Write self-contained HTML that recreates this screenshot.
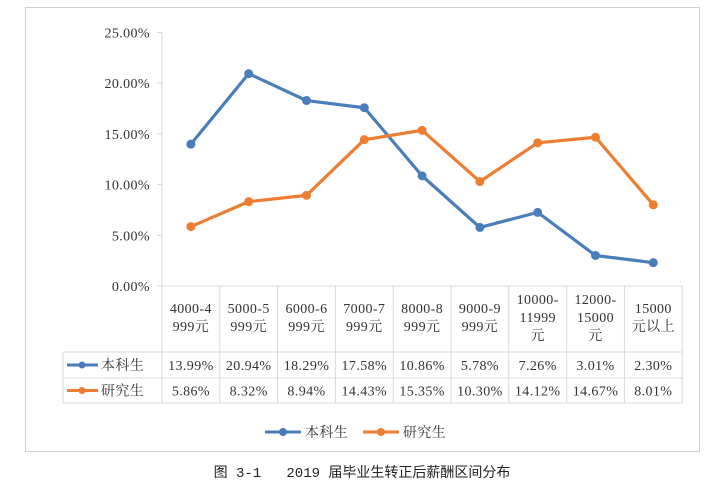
<!DOCTYPE html>
<html><head><meta charset="utf-8"><style>
body{margin:0;background:#fff;width:713px;height:502px;overflow:hidden;font-family:"Liberation Serif","Noto Serif CJK SC",serif;}
</style></head><body>
<svg width="713" height="502" style="position:absolute;left:0;top:0">
<rect x="25.5" y="7.5" width="674" height="444" fill="#fff" stroke="#d0d0d0"/>
<g id="g" font-size="14" fill="#333" letter-spacing="0.4"></g>
<text x="362" y="477" text-anchor="middle" font-size="14" fill="#222" style="white-space:pre" font-family="'Liberation Mono','Noto Sans CJK SC',monospace">图 3-1   2019 届毕业生转正后薪酬区间分布</text>
</svg>
<script>
const categories=[["4000-4","999元"],["5000-5","999元"],["6000-6","999元"],["7000-7","999元"],["8000-8","999元"],["9000-9","999元"],["10000-","11999","元"],["12000-","15000","元"],["15000","元以上"]];
const seriesNames=["本科生","研究生"];
const undergrad=[13.99,20.94,18.29,17.58,10.86,5.78,7.26,3.01,2.30];
const graduate=[5.86,8.32,8.94,14.43,15.35,10.30,14.12,14.67,8.01];
const yTicks=[0,5,10,15,20,25];
const colors=["#4a7ebb","#ed7d31"];
const NS="http://www.w3.org/2000/svg",g=document.getElementById('g');
const x0=162,cw=57.8,yb=286,yt=32.5;
const X=i=>x0+cw*(i+0.5), Y=v=>yb-(v/25)*(yb-yt);
function mk(t,a,txt){const e=document.createElementNS(NS,t);for(const k in a)e.setAttribute(k,a[k]);if(txt!=null)e.textContent=txt;g.appendChild(e);return e;}
const ax=mk('line',{x1:x0,x2:x0,y1:yt,y2:yb,stroke:'#d9d9d9'});


yTicks.forEach(v=>{const t=mk('text',{x:150,y:Y(v)+5,'text-anchor':'end','font-size':14},v.toFixed(2)+'%');


const l=mk('line',{x1:x0-5,x2:x0,y1:Y(v),y2:Y(v),stroke:'#d9d9d9'});

});
const xe=x0+cw*categories.length;
[[x0,286,xe,286],[63,352,xe,352],[63,378,xe,378],[63,403,xe,403],[63,352,63,403]].forEach(a=>{const l=mk('line',{x1:a[0],y1:a[1],x2:a[2],y2:a[3],stroke:'#d9d9d9'});

});
for(let i=0;i<=categories.length;i++){const l=mk('line',{x1:x0+cw*i,x2:x0+cw*i,y1:286,y2:403,stroke:'#d9d9d9'});

}
categories.forEach((c,i)=>{const n=c.length,top=n===3?304:313;c.forEach((s,j)=>{const t=mk('text',{x:X(i),y:top+j*18,'text-anchor':'middle'},s);

});});
[undergrad,graduate].forEach((d,k)=>{
const ry=370+k*25.5;
const lg=mk('line',{x1:67,x2:98,y1:ry-5,y2:ry-5,stroke:colors[k],'stroke-width':3});


const lc=mk('circle',{cx:82,cy:ry-5,r:3.5,fill:colors[k]});


const rn=mk('text',{x:101,y:ry,'font-size':14},seriesNames[k]);


d.forEach((v,i)=>{const t=mk('text',{x:X(i),y:ry,'text-anchor':'middle'},v.toFixed(2)+'%');

});
const p=mk('polyline',{points:d.map((v,i)=>X(i)+','+Y(v)).join(' '),fill:'none',stroke:colors[k],'stroke-width':3.2,'stroke-linejoin':'round'});


d.forEach((v,i)=>{const c=mk('circle',{cx:X(i),cy:Y(v),r:4.5,fill:colors[k]});

});
const lx=265+98*k;
const ll=mk('line',{x1:lx,x2:lx+36,y1:432,y2:432,stroke:colors[k],'stroke-width':3});


const lm=mk('circle',{cx:lx+18,cy:432,r:4,fill:colors[k]});


const lt=mk('text',{x:lx+40,y:437,'font-size':14},seriesNames[k]);


});
</script>
</body></html>
